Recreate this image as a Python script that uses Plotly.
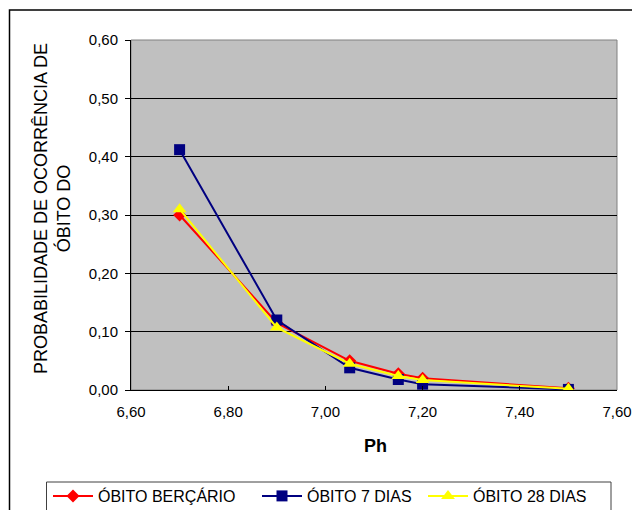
import plotly.graph_objects as go

ph = [6.70, 6.90, 7.05, 7.15, 7.20, 7.50]
obito_bercario = [0.300, 0.115, 0.050, 0.028, 0.020, 0.003]
obito_7_dias = [0.412, 0.120, 0.038, 0.018, 0.010, 0.001]
obito_28_dias = [0.310, 0.107, 0.045, 0.024, 0.017, 0.002]

series_names = ["ÓBITO BERÇÁRIO", "ÓBITO 7 DIAS", "ÓBITO 28 DIAS"]
y_title = "PROBABILIDADE DE OCORRÊNCIA DE<br>ÓBITO DO"
x_title = "Ph"

FONT = "Arial, Liberation Sans, sans-serif"
OFF = 8  # page body margin
W, H = 640 - 2 * OFF, 518 - 2 * OFF
L, T = 131 - OFF, 40 - OFF
R = W - (617 - OFF)
B = H - (390 - OFF)
PW, PH_ = W - L - R, H - T - B

def px_x(p):
    return (p - OFF - L) / PW

def px_y(p):
    return (H - B - (p - OFF)) / PH_

fig = go.Figure()
fig.add_trace(go.Scatter(x=ph, y=obito_bercario, name=series_names[0], mode="lines+markers",
                         line=dict(color="#FF0000", width=2),
                         marker=dict(symbol="diamond", size=10, color="#FF0000"),
                         legend="legend"))
fig.add_trace(go.Scatter(x=ph, y=obito_7_dias, name=series_names[1], mode="lines+markers",
                         line=dict(color="#000080", width=2),
                         marker=dict(symbol="square", size=11, color="#000080"),
                         legend="legend2"))
fig.add_trace(go.Scatter(x=ph, y=obito_28_dias, name=series_names[2], mode="lines+markers",
                         line=dict(color="#FFFF00", width=2),
                         marker=dict(symbol="triangle-up", size=12, color="#FFFF00"),
                         legend="legend3"))

leg_common = dict(orientation="h", yanchor="middle", xanchor="left", y=px_y(496),
                  font=dict(family=FONT, size=16, color="black"), bgcolor="rgba(0,0,0,0)",
                  itemwidth=40)

fig.update_layout(
    width=W, height=H,
    margin=dict(l=L, r=R, t=T, b=B, autoexpand=False),
    paper_bgcolor="white",
    plot_bgcolor="#C0C0C0",
    separators=",.",
    showlegend=True,
    hovermode=False,
    font=dict(family=FONT, size=15, color="black"),
    legend=dict(leg_common, x=px_x(48)),
    legend2=dict(leg_common, x=px_x(257)),
    legend3=dict(leg_common, x=px_x(423)),
    xaxis=dict(range=[6.6, 7.6], dtick=0.2, tick0=6.6, tickformat=".2f", automargin=False,
               showgrid=False, zeroline=False, showline=True, linecolor="black", linewidth=1,
               ticks="inside", ticklen=4, tickcolor="black", ticklabelstandoff=8,
               tickfont=dict(family=FONT, size=15)),
    yaxis=dict(range=[0, 0.6], dtick=0.1, tickformat=".2f", automargin=False,
               showgrid=True, gridcolor="black", gridwidth=1, zeroline=False,
               showline=True, linecolor="black", linewidth=1,
               ticks="outside", ticklen=5, tickcolor="black", ticklabelstandoff=4,
               tickfont=dict(family=FONT, size=15)),
    shapes=[
        dict(type="rect", xref="paper", yref="paper", x0=0, x1=1, y0=0, y1=1,
             line=dict(color="#808080", width=1), layer="below"),
        dict(type="rect", xref="paper", yref="paper", x0=px_x(9.5), x1=px_x(660), y0=px_y(10), y1=px_y(540),
             line=dict(color="black", width=1.5)),
        dict(type="rect", xref="paper", yref="paper", x0=px_x(46.5), x1=px_x(611), y0=px_y(482), y1=px_y(540),
             line=dict(color="#404040", width=1)),
    ],
    annotations=[
        dict(text=y_title, xref="paper", yref="paper", x=px_x(52), y=px_y(209),
             xanchor="center", yanchor="middle", textangle=-90, showarrow=False,
             font=dict(family=FONT, size=18, color="black")),
        dict(text="<b>" + x_title + "</b>", xref="paper", yref="paper", x=px_x(375), y=px_y(446),
             xanchor="center", yanchor="middle", showarrow=False,
             font=dict(family=FONT, size=18, color="black")),
    ],
)

fig.write_html("out.html")
